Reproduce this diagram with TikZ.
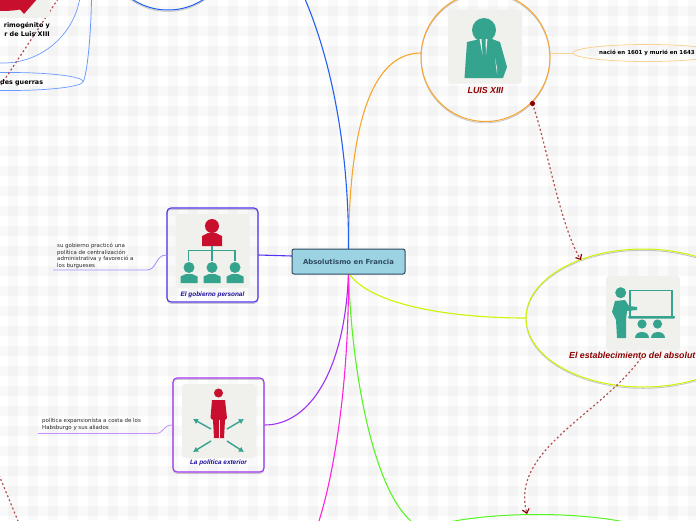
\documentclass[tikz,border=0pt]{standalone}
\usepackage{fontspec}
\setmainfont{Liberation Sans}
\newfontfamily\boldfont{DejaVu Sans}
\usetikzlibrary{arrows.meta,shapes.geometric}

\definecolor{teal1}{HTML}{35A48F}
\definecolor{crim}{HTML}{C8102E}
\definecolor{iconbg}{HTML}{F0F0EC}
\definecolor{dkred}{HTML}{8B0000}
\definecolor{linkred}{HTML}{B05050}
\definecolor{inkblue}{HTML}{1A0D9B}
\definecolor{rootfillc}{HTML}{9BD3E2}
\definecolor{rootink}{HTML}{2F4A60}
\definecolor{cblue}{HTML}{2060F0}
\definecolor{cpale}{HTML}{6A9AFF}
\definecolor{corange}{HTML}{F7A52B}
\definecolor{cpaleor}{HTML}{FAD28F}
\definecolor{clime}{HTML}{CCF500}
\definecolor{cgreen}{HTML}{55F522}
\definecolor{cmagenta}{HTML}{FF22E0}
\definecolor{cviolet}{HTML}{A030F0}
\definecolor{cpaleviolet}{HTML}{C890FF}
\definecolor{cindigo}{HTML}{5530F0}
\definecolor{cpaleindigo}{HTML}{A090FF}

\begin{document}
\begin{tikzpicture}[
  x=1pt, y=-1pt,
  iconbox/.style={rectangle, fill=iconbg, rounded corners=3pt, minimum width=74pt, minimum height=74pt, inner sep=0pt},
  framebox/.style={rectangle, rounded corners=4pt, minimum width=91pt, minimum height=94pt, inner sep=0pt, line width=1.1pt},
  ring/.style={circle, inner sep=0pt, line width=1pt},
  oval/.style={ellipse, inner sep=0pt, line width=1pt},
  shade/.style={draw=black!60, opacity=.35, line width=.9pt, yshift=-1.3pt},
  rootbox/.style={rectangle, draw=rootink, fill=rootfillc, rounded corners=2pt, minimum width=113pt, minimum height=25pt, inner sep=0pt, line width=1pt, text=rootink, font=\boldfont\bfseries\fontsize{6.9}{8}\selectfont},
  caption/.style={inner sep=0pt, font=\bfseries\itshape\fontsize{6.4}{7}\selectfont, text=inkblue},
  redcap/.style={inner sep=0pt, font=\bfseries\itshape, text=dkred},
  note/.style={inner sep=0pt, align=left, text=black!85, font=\boldfont\fontsize{5.45}{6.7}\selectfont},
  boldnote/.style={inner sep=0pt, align=right, font=\boldfont\bfseries\fontsize{6.4}{8.2}\selectfont},
  branch/.style={line width=1.1pt},
  link/.style={draw=linkred, line width=1.2pt, dash pattern=on 2pt off 2.4pt, -{Straight Barb[length=4pt,width=7pt,color=dkred]}},
  linkfree/.style={draw=linkred, line width=1.2pt, dash pattern=on 2pt off 2.4pt}
]
  \useasboundingbox (0,0) rectangle (696,520);

  % checkered page
  \foreach \i in {0,...,34} {
    \fill[black, opacity=.025] (8+20*\i,0) rectangle (18+20*\i,520);
  }
  \foreach \i in {0,...,25} {
    \fill[black, opacity=.025] (0,6+20*\i) rectangle (696,16+20*\i);
  }

  % shadows of the framed shapes
  \draw[shade] (485.5,57) circle (64.5);
  \draw[shade] (643,318) ellipse (117 and 69);
  \draw[shade] (168,-55) circle (65);
  \draw[shade, rounded corners=4pt] (167,208) rectangle (258,302);
  \draw[shade, rounded corners=4pt] (173,378) rectangle (264,472);

  \node[ring, draw=corange, minimum size=129pt] (luis) at (485.5,57) {};
  \node[oval, draw=clime, minimum width=234pt, minimum height=138pt] (estab) at (643,318) {};
  \node[ring, draw=cblue, minimum size=130pt] (topcirc) at (168,-55) {};
  \node[framebox, draw=cindigo] (gob) at (212.5,255) {};
  \node[framebox, draw=cviolet] (pol) at (218.5,425) {};
  \node[oval, draw=cgreen, minimum width=266pt, minimum height=60pt] (bottomoval) at (537,544.5) {};
  \node[ring, draw=cpale, line width=.7pt, minimum size=156pt] (primo) at (3,-15) {};
  \node[oval, draw=cpale, line width=.7pt, minimum width=146pt, minimum height=18pt] (guerras) at (10,81.5) {};
  \node[oval, draw=cpaleor, line width=.8pt, minimum width=148pt, minimum height=17pt, font=\boldfont\bfseries\fontsize{5.5}{6}\selectfont] (nacio) at (647,53) {nació en 1601 y murió en 1643};

  % free ends
  \coordinate (blueend) at (305,-1);
  \coordinate (magend) at (319,521);
  \coordinate (greenend) at (411,521);
  \coordinate (guerrastop) at (91.5,-1);
  \coordinate (golda) at (58,-1);
  \coordinate (goldb) at (-1,88);
  \coordinate (lowa) at (-1,475);
  \coordinate (lowb) at (18,521);
  \coordinate (dota) at (532.5,103.5);
  \coordinate (dotb) at (641,358);
  \coordinate (gobnotel) at (53,270);
  \coordinate (gobnoter) at (147,270);
  \coordinate (polnotel) at (38,433.5);
  \coordinate (polnoter) at (155,433.5);
  \coordinate (luisleft) at (421,53);
  \coordinate (luisright) at (550,53);
  \coordinate (roottop) at (348.5,250);
  \coordinate (rootlow) at (348.5,273);
  \coordinate (rootleft) at (292,256);

  % branches
  \draw[branch, draw=corange] (roottop) .. controls (349,130) and (370,53) .. (luisleft);
  \draw[branch, draw=cblue] (roottop) .. controls (349,160) and (335,70) .. (blueend);
  \draw[branch, draw=cviolet] (rootlow) .. controls (345,370) and (310,425) .. (pol.east);
  \draw[branch, draw=cgreen] (rootlow) .. controls (352,380) and (375,490) .. (greenend);
  \draw[branch, draw=clime] (rootlow) .. controls (370,305) and (450,318) .. (estab.west);
  \draw[branch, draw=cmagenta] (rootlow) .. controls (349,380) and (335,470) .. (magend);
  \draw[branch, draw=cindigo] (rootleft) -- (gob.east);
  \draw[line width=.9pt, draw=cpaleor] (luisright) -- (nacio.west);
  \draw[line width=.8pt, draw=cpale] (guerrastop) .. controls (91,30) and (88,70) .. (guerras.east);
  \draw[line width=.8pt, draw=cpaleindigo] (gobnotel) -- (gobnoter) .. controls (157,270) and (155,255) .. (gob.west);
  \draw[line width=.8pt, draw=cpaleviolet] (polnotel) -- (polnoter) .. controls (165,433.5) and (162,425) .. (pol.west);

  \node[rootbox] (root) at (348.5,261.5) {Absolutismo en Francia};

  % dashed links
  \draw[linkfree] (golda) -- (goldb);
  \draw[linkfree] (lowa) -- (lowb);
  \draw[link] (dota) .. controls (548,150) and (560,225) .. (581,260);
  \draw[link] (dotb) .. controls (600,415) and (510,450) .. (527,514);
  \fill[dkred] (dota) circle (2.6);

  % icon: Luis XIII
  \node[iconbox] (luisicon) at (485,46.5) {};
  \fill[teal1] (484,30) circle (12);
  \fill[teal1] (464.5,78) -- (467,42) -- (480,39) -- (492,39) -- (500,42) -- (507,67) -- (503,78) -- cycle;
  \fill[iconbg] (479.5,39) -- (481.5,39) -- (482.5,55) -- cycle;
  \fill[iconbg] (485.5,39) -- (487.5,39) -- (486,55) -- cycle;
  \fill[iconbg] (495,58) -- (497,68) -- (497,74) -- cycle;
  \node[redcap, font=\bfseries\itshape\fontsize{8.8}{10}\selectfont] (luiscap) at (485.5,90.5) {LUIS XIII};

  % icon: establecimiento
  \node[iconbox] (estabicon) at (643,313) {};
  \fill[teal1] (620.7,292.7) circle (5.5);
  \fill[teal1] (615,301) -- (625,300) -- (629,306) -- (637,307) -- (637,310) -- (627,311) -- (626,320) -- (626,338) -- (617,338) -- (616,320) -- (612,312) -- cycle;
  \draw[teal1, line width=1.8pt] (630,290.5) rectangle (672,317);
  \fill[iconbg] (630.9,314) rectangle (640,322);
  \fill[teal1, rounded corners=1pt] (628,316) rectangle (675,318.5);
  \foreach \sx in {642,657.5} {
    \fill[teal1] (\sx,324) circle (4.6);
    \fill[teal1] (\sx-7,337.5) .. controls (\sx-7,330) and (\sx+7,330) .. (\sx+7,337.5) -- cycle;
  }
  \node[redcap, anchor=west, font=\bfseries\itshape\fontsize{8.8}{11}\selectfont] (estabcap) at (569,355.5) {El establecimiento del absolut};

  % icon: gobierno personal
  \node[iconbox] (gobicon) at (212.5,251) {};
  \fill[crim] (212,226) circle (7);
  \fill[crim] (202,246) -- (202,236) -- (208,233) -- (216,233) -- (222,236) -- (222,246) -- cycle;
  \draw[teal1, line width=1.1pt] (212,246) -- (212,261);
  \draw[teal1, line width=1.1pt] (188.5,261) -- (188.5,250.7) -- (235,250.7) -- (235,261);
  \foreach \px in {189,212,235} {
    \fill[teal1] (\px,267.5) circle (5.5);
    \fill[teal1] (\px-8.5,283) -- (\px-8.5,276.5) -- (\px-3,274) -- (\px+3,274) -- (\px+8.5,276.5) -- (\px+8.5,283) -- cycle;
  }
  \node[caption] (gobcap) at (212.5,294.5) {El gobierno personal};
  \node[note, anchor=north west] (gobnote) at (57,243) {su gobierno practicó una\\política de centralización\\administrativa y favoreció a\\los burgueses};

  % icon: politica exterior
  \node[iconbox] (policon) at (219,421) {};
  \fill[crim] (218.5,393) circle (4.5);
  \fill[crim] (212,400) -- (225,400) -- (227,418) -- (225,420) -- (224,438) -- (214,438) -- (213,420) -- (210.5,418) -- cycle;
  \draw[iconbg, line width=.5pt] (218.8,420) -- (218.8,438);
  \foreach \tipx/\tipy/\tailx/\taily in {193/419/211/429, 244/419/227/429, 193/452/211/441, 244/452/227/441} {
    \draw[teal1, line width=1.4pt, -{Latex[length=5pt,width=6pt]}] (\tailx,\taily) -- (\tipx,\tipy);
  }
  \node[caption] (polcap) at (218.5,463) {La política exterior};
  \node[note, anchor=north west] (polnote) at (42,418) {política expansionista a costa de los\\Habsburgo y sus aliados};

  % icon: off the corner
  \node[iconbox, anchor=south east] (primoicon) at (50,18) {};
  \fill[crim] (-2,-2) -- (38,-2) -- (24,14) -- (20,9.5) .. controls (12,11) and (5,11) .. (-2,11) -- cycle;
  \node[boldnote, anchor=north east] (primocap) at (50,22.5) {rimogénito y\\r de Luis XIII};
  \node[boldnote, anchor=west] (guerrascap) at (0,82.5) {des guerras};
\end{tikzpicture}
\end{document}
